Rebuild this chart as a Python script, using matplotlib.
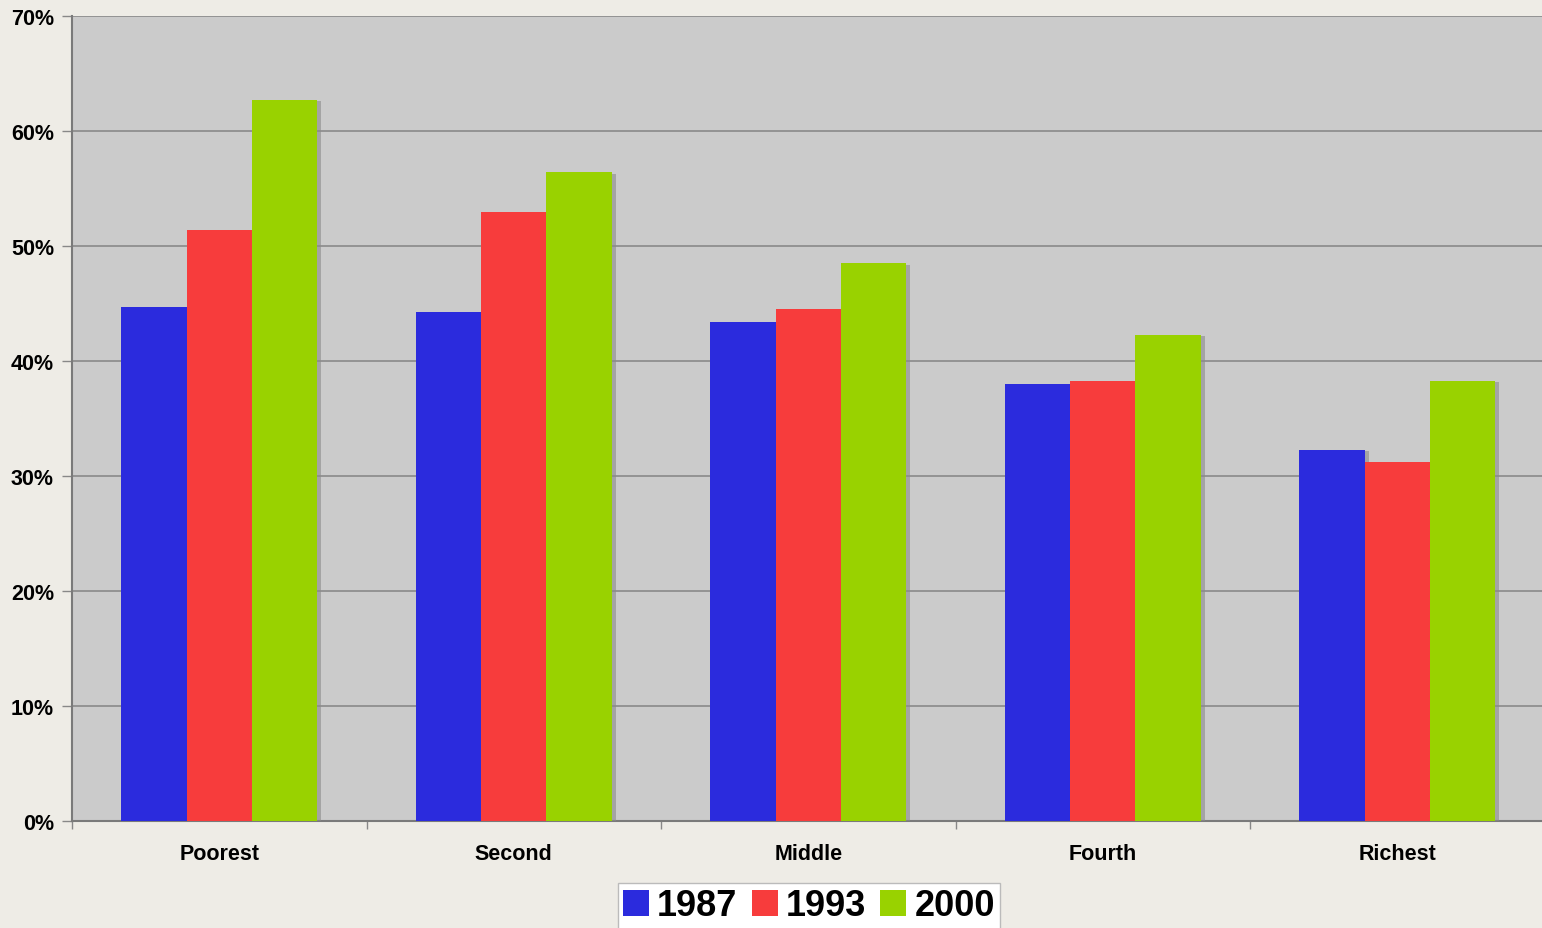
import numpy as np
import matplotlib.pyplot as plt
import matplotlib.patheffects as pe
from matplotlib.patches import Patch
from matplotlib.ticker import FuncFormatter, MultipleLocator

plt.rcParams['font.family'] = ['Liberation Sans', 'DejaVu Sans']
plt.rcParams['font.weight'] = 'bold'

groups = ["Poorest", "Second", "Middle", "Fourth", "Richest"]
years = ["1987", "1993", "2000"]
share_1987 = [44.7, 44.3, 43.4, 38.0, 32.3]
share_1993 = [51.4, 53.0, 44.5, 38.3, 31.2]
share_2000 = [62.7, 56.4, 48.5, 42.3, 38.3]
colors = ["#2b2bdd", "#f73c3c", "#99d200"]

fig = plt.figure(figsize=(15.42, 9.29), dpi=100)
fig.patch.set_facecolor("#eeece6")
ax = fig.add_axes([72 / 1542, 1 - 822 / 929, 1472.5 / 1542, 805 / 929])
ax.set_facecolor("#cbcbcb")

x = np.arange(len(groups))
w = 0.222
shadow = [pe.SimplePatchShadow(offset=(3, -1), shadow_rgbFace="#8a8a8a", alpha=0.6), pe.Normal()]
for i, (vals, c) in enumerate(zip([share_1987, share_1993, share_2000], colors)):
    ax.bar(x + (i - 1) * w, vals, width=w, color=c, zorder=3, path_effects=shadow)

ax.set_xlim(-0.5, 4.5)
ax.set_ylim(0, 70)
ax.yaxis.set_major_locator(MultipleLocator(10))
ax.yaxis.set_major_formatter(FuncFormatter(lambda v, p: f"{v:.0f}%"))
ax.grid(axis="y", color="#8a8a8a", linewidth=1.2, zorder=1)
ax.set_axisbelow(True)

ax.set_xticks(x)
ax.set_xticklabels(groups)
ax.set_xticks(np.arange(-0.5, 5.0, 1.0), minor=True)
ax.tick_params(axis="x", which="major", length=0, pad=16, labelsize=15.5)
ax.tick_params(axis="x", which="minor", length=6, color="#888888", width=1)
ax.tick_params(axis="y", length=7, color="#888888", width=1, labelsize=15.5, pad=6)

for s in ["top", "right"]:
    ax.spines[s].set_visible(False)
for s in ["left", "bottom"]:
    ax.spines[s].set_color("#7a7a7a")
    ax.spines[s].set_linewidth(1.5)

handles = [Patch(facecolor=c, edgecolor="none") for c in colors]
leg = ax.legend(handles, years, loc="upper center", bbox_to_anchor=(809 / 1542, 45 / 929),
                bbox_transform=fig.transFigure, ncol=3, frameon=True, fancybox=False, fontsize=26,
                handlelength=0.72, handleheight=0.72, handletextpad=0.22, columnspacing=0.4,
                borderpad=0.15, borderaxespad=0)
leg.get_frame().set_edgecolor("#bbbbbb")
leg.get_frame().set_facecolor("white")
leg.get_frame().set_alpha(1)
for t in leg.get_texts():
    t.set_fontweight("bold")

fig.savefig("out.png", dpi=100, facecolor=fig.get_facecolor())
